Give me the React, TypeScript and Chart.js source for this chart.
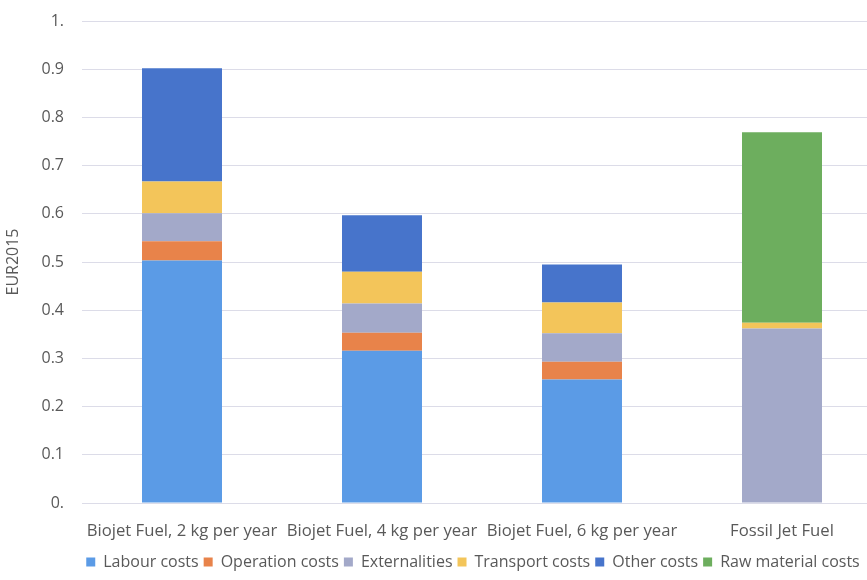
import React, { useEffect, useRef } from "react";
import { Chart, registerables } from "chart.js";

Chart.register(...registerables);

// Categories and stacked cost components (EUR2015)
const categories = [
  "Biojet Fuel, 2 kg per year",
  "Biojet Fuel, 4 kg per year",
  "Biojet Fuel, 6 kg per year",
  "Fossil Jet Fuel",
];
const labourCosts = [0.503, 0.316, 0.256, 0];
const operationCosts = [0.04, 0.037, 0.037, 0];
const externalities = [0.058, 0.061, 0.059, 0.362];
const transportCosts = [0.066, 0.066, 0.064, 0.012];
const otherCosts = [0.235, 0.117, 0.079, 0];
const rawMaterialCosts = [0, 0, 0, 0.395];

const yTickLabels = ["0.", "0.1", "0.2", "0.3", "0.4", "0.5", "0.6", "0.7", "0.8", "0.9", "1."];

const FONT = "'Open Sans', Lato, sans-serif";
const TEXT = "#595959";

// Centre the legend row on a given x position
const legendShift = {
  id: "legendShift",
  afterLayout(chart: any) {
    const lg = chart.legend;
    if (!lg) return;
    const centre = 473;
    const d = centre - (lg.left + lg.right) / 2;
    lg.left += d;
    lg.right += d;
    (lg.legendHitBoxes || []).forEach((h: any) => (h.left += d));
  },
};

export default function App() {
  const ref = useRef<HTMLCanvasElement>(null);

  useEffect(() => {
    if (!ref.current) return;
    const chart = new Chart(ref.current, {
      type: "bar",
      data: {
        labels: categories,
        datasets: [
          { label: "Labour costs", data: labourCosts, backgroundColor: "#5B9BE6" },
          { label: "Operation costs", data: operationCosts, backgroundColor: "#E8834A" },
          { label: "Externalities", data: externalities, backgroundColor: "#A3A9C9" },
          { label: "Transport costs", data: transportCosts, backgroundColor: "#F3C55A" },
          { label: "Other costs", data: otherCosts, backgroundColor: "#4774CB" },
          { label: "Raw material costs", data: rawMaterialCosts, backgroundColor: "#6DAE5E" },
        ],
      },
      options: {
        responsive: false,
        animation: false,
        layout: { padding: { top: 21, left: 0, right: 0, bottom: 0 } },
        datasets: { bar: { barPercentage: 0.4, categoryPercentage: 1 } },
        plugins: {
          legend: {
            position: "bottom",
            labels: {
              boxWidth: 9,
              boxHeight: 9,
              padding: 5,
              color: TEXT,
              font: { family: FONT, size: 16 },
            },
          },
          tooltip: { enabled: false },
        },
        scales: {
          x: {
            stacked: true,
            afterFit: (s: any) => {
              s.height = 46;
            },
            grid: { display: false },
            border: { display: false },
            ticks: { color: TEXT, font: { family: FONT, size: 16.7 }, padding: 10, maxRotation: 0, autoSkip: false },
          },
          y: {
            stacked: true,
            min: 0,
            max: 1,
            afterFit: (s: any) => {
              s.width = 82;
              s.paddingTop = 0;
              s.paddingBottom = 0;
            },
            grid: { color: "#DCDCE8", drawTicks: false },
            border: { display: false },
            ticks: {
              stepSize: 0.1,
              padding: 18,
              color: TEXT,
              font: { family: FONT, size: 16 },
              callback: (_v: any, i: number) => yTickLabels[i],
            },
            title: {
              display: true,
              text: "EUR2015",
              color: TEXT,
              font: { family: FONT, size: 16 },
            },
          },
        },
      },
      plugins: [legendShift],
    });
    return () => chart.destroy();
  }, []);

  return (
    <div style={{ position: "fixed", left: 0, top: 0, width: 867, height: 580, overflow: "hidden", background: "#fff" }}>
      <canvas ref={ref} width={882} height={580} style={{ display: "block" }} />
    </div>
  );
}
